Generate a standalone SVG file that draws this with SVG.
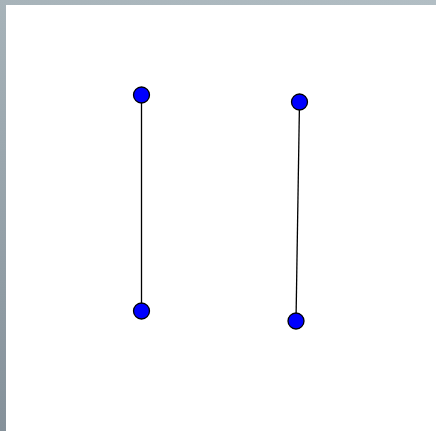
<svg xmlns="http://www.w3.org/2000/svg" width="436" height="431" viewBox="0 0 436 431">
<defs>
<linearGradient id="bgTop" x1="0" y1="0" x2="1" y2="0">
<stop offset="0" stop-color="#a7b3b9"/>
<stop offset="1" stop-color="#b2bec4"/>
</linearGradient>
<linearGradient id="bgLeft" x1="0" y1="0" x2="0" y2="1">
<stop offset="0" stop-color="#a7b3b9"/>
<stop offset="1" stop-color="#85919a"/>
</linearGradient>
<style>
.edge{stroke:#000;stroke-width:1.3;fill:none}
.node{fill:#0000ff;stroke:#000;stroke-width:1.3}
</style>
</defs>
<rect x="0" y="0" width="436" height="431" fill="#fff"/>
<rect x="0" y="0" width="436" height="5" fill="url(#bgTop)"/>
<rect x="0" y="0" width="6" height="431" fill="url(#bgLeft)"/>
<g id="connectors">
<line class="edge" x1="141.5" y1="95" x2="141.5" y2="311"/>
<line class="edge" x1="299.5" y1="102" x2="296" y2="321"/>
</g>
<g id="n1"><circle class="node" cx="141.5" cy="95" r="8"/></g>
<g id="n2"><circle class="node" cx="141.5" cy="311" r="8"/></g>
<g id="n3"><circle class="node" cx="299.5" cy="102" r="8"/></g>
<g id="n4"><circle class="node" cx="296" cy="321" r="8"/></g>
</svg>
